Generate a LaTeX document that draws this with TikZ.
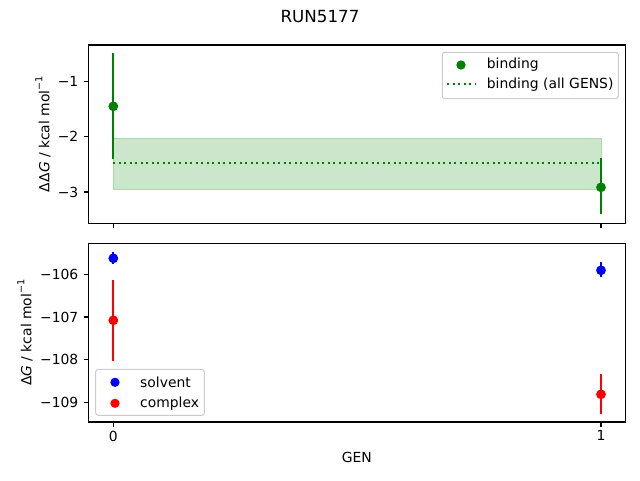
\documentclass[tikz,border=0pt]{standalone}
\usepackage{fontspec}
\setmainfont{DejaVu Sans}
\definecolor{mgreen}{HTML}{008000}
\definecolor{mblue}{HTML}{0000FF}
\definecolor{mred}{HTML}{FF0000}
\definecolor{band}{HTML}{CCE6CC}
\definecolor{legframe}{HTML}{CCCCCC}
\begin{document}
\begin{tikzpicture}[x=1pt,y=-1pt,
  every node/.style={inner sep=0pt,font=\fontsize{13.9}{16}\selectfont},
  spine/.style={line width=1.1pt,black},
  tickmark/.style={line width=1.1pt,black},
  errbar/.style={line width=2.1pt},
  dot/.style={circle,inner sep=0pt,minimum size=9.8pt},
  legdot/.style={circle,inner sep=0pt,minimum size=9.3pt},
  legbox/.style={draw=legframe,fill=white,line width=1pt,rounded corners=2.5pt},
  ticklab/.style={anchor=east},
]
\useasboundingbox (0,0) rectangle (640,480);
% title
\node[font=\fontsize{16.7}{19}\selectfont] (title) at (320,17) {RUN5177};

% ---------------- top axes ----------------
\fill[band,draw=band!85!mgreen,line width=0.5pt] (113.3,138) rectangle (601,189.7);
\draw[mgreen,line width=2.1pt,dash pattern=on 2.1pt off 3.4pt] (113.3,162.7) -- (601,162.7);
\draw[errbar,mgreen] (113.3,53.3) -- (113.3,159.3);
\node[dot,fill=mgreen] (b0) at (113.3,106.3) {};
\draw[errbar,mgreen] (601,158.3) -- (601,214);
\node[dot,fill=mgreen] (b1) at (601,187.3) {};
\draw[spine] (88.5,45) rectangle (625.3,223.3);
% y ticks
\foreach \yy/\lab in {81.3/−1,136.7/−2,192/−3}{
  \draw[tickmark] (83.6,\yy) -- (88.5,\yy);
  \node[ticklab] at (78.5,\yy) {\lab};
}
\foreach \xx in {113.3,601}{\draw[tickmark] (\xx,223.3) -- (\xx,228.2);}
\node[rotate=90] (ylab1) at (43,134) {ΔΔ\textit{G} / kcal mol\raisebox{0.9ex}{\fontsize{9.7}{11}\selectfont −1}};
% legend top
\draw[legbox] (442.3,52.3) rectangle (618.3,98.7);
\node[legdot,fill=mgreen] (lb) at (461,65) {};
\node[anchor=west] (lbt) at (486.7,65) {binding};
\draw[mgreen,line width=2.1pt,dash pattern=on 2.1pt off 3.4pt] (447,84.3) -- (476,84.3);
\node[anchor=west] (lbat) at (486.7,84.3) {binding (all GENS)};

% ---------------- bottom axes ----------------
\draw[errbar,mblue] (113.3,251.7) -- (113.3,264);
\node[dot,fill=mblue] (s0) at (113.3,258.3) {};
\draw[errbar,mred] (113.3,280) -- (113.3,360.7);
\node[dot,fill=mred] (c0) at (113.3,320.3) {};
\draw[errbar,mblue] (601,262.3) -- (601,276.7);
\node[dot,fill=mblue] (s1) at (601,270.3) {};
\draw[errbar,mred] (601,374) -- (601,413.7);
\node[dot,fill=mred] (c1) at (601,394.3) {};
% legend bottom
\draw[legbox] (95.7,369.3) rectangle (204.3,415.3);
\node[legdot,fill=mblue] (ls) at (115,382.3) {};
\node[anchor=west] (lst) at (140,382.3) {solvent};
\node[legdot,fill=mred] (lc) at (115,403.3) {};
\node[anchor=west] (lct) at (140,403.3) {complex};
\draw[spine] (88.5,243.3) rectangle (625.3,422);
\foreach \yy/\lab in {274.3/−106,317/−107,359.6/−108,402.3/−109}{
  \draw[tickmark] (83.6,\yy) -- (88.5,\yy);
  \node[ticklab] at (78.5,\yy) {\lab};
}
\foreach \xx/\lab in {113.3/0,601/1}{
  \draw[tickmark] (\xx,422) -- (\xx,426.9);
  \node[anchor=north] at (\xx,430.5) {\lab};
}
\node[rotate=90] (ylab2) at (25,332.6) {Δ\textit{G} / kcal mol\raisebox{0.9ex}{\fontsize{9.7}{11}\selectfont −1}};
\node (xlab) at (356.9,457) {GEN};
\end{tikzpicture}
\end{document}
